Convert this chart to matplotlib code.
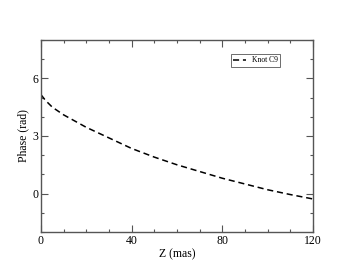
import numpy as np
import matplotlib
matplotlib.use("Agg")
import matplotlib.pyplot as plt
from matplotlib.ticker import MultipleLocator

# values
z_mas = [0, 2, 5, 10, 20, 30, 40, 50, 60, 70, 80, 90, 100, 110, 120]
phase = [5.15, 4.85, 4.5, 4.1, 3.45, 2.9, 2.35, 1.9, 1.5, 1.15, 0.8, 0.5, 0.2, -0.05, -0.28]
label = "Knot C9"

plt.rcParams['font.family'] = ['Liberation Serif', 'DejaVu Serif']

fig = plt.figure(figsize=(3.53, 2.73), dpi=100)
ax = fig.add_axes([41 / 353, 1 - 232 / 273, 272 / 353, 192 / 273])

ax.plot(z_mas, phase, color='black', ls=(0, (4, 2.5)), lw=1.1, label=label)

ax.set_xlim(0, 120)
ax.set_ylim(-2, 8)
ax.xaxis.set_major_locator(MultipleLocator(40))
ax.xaxis.set_minor_locator(MultipleLocator(10))
ax.yaxis.set_major_locator(MultipleLocator(3))
ax.yaxis.set_minor_locator(MultipleLocator(1))
ax.tick_params(which='both', direction='in', top=True, right=True,
               labelsize=8.5, color='#555555', pad=2)
ax.tick_params(which='major', length=5, width=0.8)
ax.tick_params(which='minor', length=2.5, width=0.8)
for s in ax.spines.values():
    s.set_color('#555555')
    s.set_linewidth(1.0)

ax.set_xlabel("Z (mas)", fontsize=8.5, labelpad=1)
ax.set_ylabel("Phase (rad)", fontsize=8.5, labelpad=2)

leg = ax.legend(loc='upper right', bbox_to_anchor=(0.879, 0.927), fontsize=5.5,
                fancybox=False, edgecolor='#555555', handlelength=1.6,
                borderpad=0.3, borderaxespad=0, framealpha=1)
leg.get_frame().set_linewidth(0.6)

fig.savefig("out.png", dpi=100)
